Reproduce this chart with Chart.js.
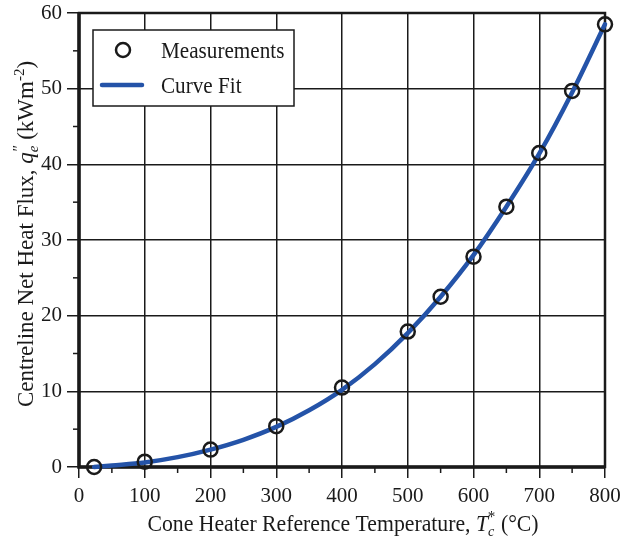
<!DOCTYPE html>
<html>
<head>
<meta charset="utf-8">
<script src="https://cdn.jsdelivr.net/npm/chart.js@4/dist/chart.umd.min.js"></script>
<style>
  html, body { margin: 0; padding: 0; background: #fff; }
  #wrap { width: 622px; height: 540px; }
</style>
</head>
<body>
<div id="wrap"><canvas id="c" width="622" height="540"></canvas></div>
<script>
// Measurements
const measT = [23, 100, 200, 300, 400, 500, 550, 600, 650, 700, 750, 800];
const measQ = [0.0, 0.7, 2.3, 5.4, 10.5, 17.9, 22.5, 27.8, 34.4, 41.5, 49.7, 58.5];
// Curve fit
const fitT = [23, 50, 100, 150, 200, 250, 300, 350, 400, 450, 500, 550, 600, 650, 700, 750, 800];
const fitQ = [0.0, 0.2, 0.6, 1.3, 2.3, 3.6, 5.3, 7.5, 10.2, 13.6, 17.7, 22.5, 28.0, 34.4, 41.4, 49.5, 58.5];
// Axes
const xMin = 0, xMax = 800, xStep = 100;
const yMin = 0, yMax = 60, yStep = 10;

const FONT = "'Liberation Serif', 'DejaVu Serif', serif";
const INK = '#1a1a1a';

function drawRich(ctx, segs, cx, cy, sq) {
  let total = 0;
  segs.forEach(s => {
    ctx.font = (s.italic ? 'italic ' : '') + s.size + 'px ' + FONT;
    s.w = ctx.measureText(s.text).width;
    total += s.w + (s.gap || 0);
  });
  ctx.save();
  ctx.translate(cx, cy);
  ctx.scale(sq, 1);
  let x = -total / 2;
  ctx.textBaseline = 'alphabetic';
  ctx.textAlign = 'left';
  segs.forEach(s => {
    ctx.font = (s.italic ? 'italic ' : '') + s.size + 'px ' + FONT;
    ctx.fillText(s.text, x, s.dy || 0);
    x += s.w + (s.gap || 0);
  });
  ctx.restore();
}

function drawText(ctx, text, x, y, sq) {
  ctx.save();
  ctx.translate(x, y);
  ctx.scale(sq, 1);
  ctx.fillText(text, 0, 0);
  ctx.restore();
}

function noOverflow(s) {
  s.paddingLeft = 0; s.paddingRight = 0; s.paddingTop = 0; s.paddingBottom = 0;
}

const decor = {
  id: 'decor',
  beforeDatasetsDraw(chart) {
    const {ctx, chartArea: a, scales: {x, y}} = chart;
    ctx.save();
    ctx.strokeStyle = INK;
    ctx.lineWidth = 1.5;
    const xt = x.ticks.map(t => t.value);
    for (let i = 0; i < xt.length - 1; i++) {
      const px = x.getPixelForValue((xt[i] + xt[i + 1]) / 2);
      ctx.beginPath(); ctx.moveTo(px, a.bottom); ctx.lineTo(px, a.bottom + 6); ctx.stroke();
    }
    const yt = y.ticks.map(t => t.value);
    for (let i = 0; i < yt.length - 1; i++) {
      const py = y.getPixelForValue((yt[i] + yt[i + 1]) / 2);
      ctx.beginPath(); ctx.moveTo(a.left, py); ctx.lineTo(a.left - 6, py); ctx.stroke();
    }
    ctx.lineWidth = 2.5;
    ctx.strokeRect(a.left, a.top, a.right - a.left, a.bottom - a.top);
    ctx.lineWidth = 3.5;
    ctx.beginPath();
    ctx.moveTo(a.left, a.top); ctx.lineTo(a.left, a.bottom); ctx.lineTo(a.right, a.bottom);
    ctx.stroke();
    ctx.restore();
  },
  afterDatasetsDraw(chart) {
    const {ctx} = chart;
    ctx.save();
    const ds = chart.data.datasets;
    const lx = 93, ly = 30, lw = 201, lh = 76;
    ctx.fillStyle = '#fff';
    ctx.fillRect(lx, ly, lw, lh);
    ctx.lineWidth = 1.5;
    ctx.strokeStyle = INK;
    ctx.strokeRect(lx, ly, lw, lh);
    ctx.beginPath();
    ctx.lineWidth = ds[0].borderWidth;
    ctx.strokeStyle = ds[0].borderColor;
    ctx.arc(123, 50, ds[0].pointRadius, 0, Math.PI * 2);
    ctx.stroke();
    ctx.beginPath();
    ctx.lineWidth = ds[1].borderWidth;
    ctx.strokeStyle = ds[1].borderColor;
    ctx.lineCap = 'round';
    ctx.moveTo(102, 85); ctx.lineTo(142, 85);
    ctx.stroke();
    ctx.fillStyle = INK;
    ctx.font = '23px ' + FONT;
    ctx.textBaseline = 'alphabetic';
    ctx.textAlign = 'left';
    drawText(ctx, ds[0].label, 161, 58, 0.92);
    drawText(ctx, ds[1].label, 161, 93, 0.92);

    // x-axis title
    drawRich(ctx, [
      {text: 'Cone Heater Reference Temperature, ', size: 23},
      {text: 'T', size: 23, italic: true},
      {text: 'c', size: 15, italic: true, dy: 5, gap: -7},
      {text: '*', size: 16, dy: -9, gap: 6},
      {text: '(°C)', size: 23}
    ], 343, 531, 0.945);

    // y-axis title
    ctx.save();
    ctx.translate(33, 234);
    ctx.rotate(-Math.PI / 2);
    drawRich(ctx, [
      {text: 'Centreline Net Heat Flux, ', size: 23},
      {text: 'q', size: 23, italic: true},
      {text: 'e', size: 15, italic: true, dy: 5, gap: -7},
      {text: '\u2033', size: 16, italic: true, dy: -9, gap: 6},
      {text: '(kWm', size: 23},
      {text: '-2', size: 15, dy: -9},
      {text: ')', size: 23}
    ], 0, 0, 1.0);
    ctx.restore();
    ctx.restore();
  }
};

const chart = new Chart(document.getElementById('c'), {
  data: {
    datasets: [
      {
        type: 'scatter',
        label: 'Measurements',
        data: measT.map((t, i) => ({x: t, y: measQ[i]})),
        pointRadius: 7,
        pointHoverRadius: 7,
        borderWidth: 2.5,
        borderColor: INK,
        backgroundColor: 'rgba(0,0,0,0)',
        clip: false,
        order: 0
      },
      {
        type: 'line',
        label: 'Curve Fit',
        data: fitT.map((t, i) => ({x: t, y: fitQ[i]})),
        borderColor: '#2453a8',
        borderWidth: 4.5,
        pointRadius: 0,
        fill: false,
        cubicInterpolationMode: 'monotone',
        borderCapStyle: 'round',
        clip: false,
        order: 1
      }
    ]
  },
  options: {
    responsive: false,
    animation: false,
    devicePixelRatio: 1,
    layout: { padding: { top: 13, right: 17, left: 0, bottom: 0 } },
    plugins: { legend: { display: false }, tooltip: { enabled: false } },
    scales: {
      x: {
        type: 'linear',
        min: xMin, max: xMax,
        ticks: { stepSize: xStep, color: INK, font: { family: FONT, size: 21, lineHeight: 1 }, padding: 8, maxRotation: 0 },
        grid: { color: INK, lineWidth: 1.5, tickLength: 11, tickColor: INK, tickWidth: 1.5 },
        border: { display: false },
        afterFit(s) { s.height = 73; noOverflow(s); }
      },
      y: {
        type: 'linear',
        min: yMin, max: yMax,
        ticks: { stepSize: yStep, color: INK, font: { family: FONT, size: 21, lineHeight: 1 }, padding: 5 },
        grid: { color: INK, lineWidth: 1.5, tickLength: 12, tickColor: INK, tickWidth: 1.5 },
        border: { display: false },
        afterFit(s) { s.width = 79; noOverflow(s); }
      }
    }
  },
  plugins: [decor]
});
</script>
</body>
</html>
